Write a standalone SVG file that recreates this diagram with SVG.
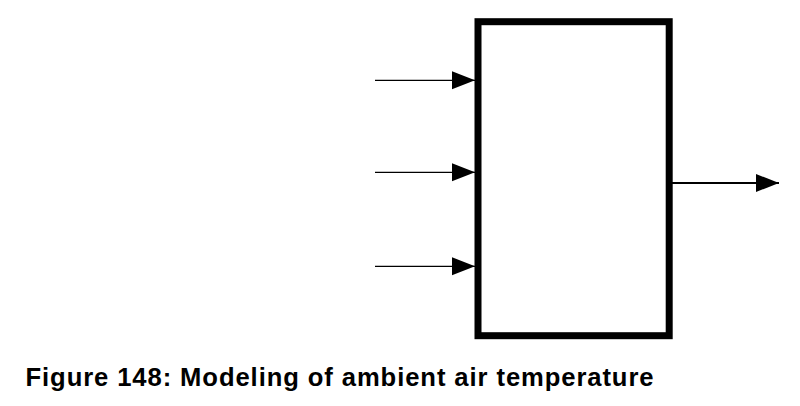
<svg xmlns="http://www.w3.org/2000/svg" width="800" height="406" viewBox="0 0 800 406">
<style>
.in{stroke:#000;stroke-width:1.2;fill:none}
.out{stroke:#000;stroke-width:2;fill:none}
.cap{font-family:"Liberation Sans",Arial,sans-serif;font-weight:bold;font-size:25.6px;fill:#000}
</style>
<defs>
<marker id="ah" markerUnits="userSpaceOnUse" markerWidth="24" markerHeight="20" refX="23" refY="9" orient="auto" viewBox="0 0 24 18">
<path d="M0,0 L23,9 L0,18 Z" fill="#000"/>
</marker>
</defs>
<rect width="800" height="406" fill="#fff"/>
<g id="block">
<rect x="478" y="21.7" width="191.2" height="314" fill="#fff" stroke="#000" stroke-width="7"/>
</g>
<g id="connectors">
<line class="in" x1="375" y1="80.3" x2="475" y2="80.3" marker-end="url(#ah)"/>
<line class="in" x1="375" y1="172.3" x2="475" y2="172.3" marker-end="url(#ah)"/>
<line class="in" x1="375" y1="266.3" x2="475" y2="266.3" marker-end="url(#ah)"/>
<line class="out" x1="672" y1="183" x2="779" y2="183" marker-end="url(#ah)"/>
</g>
<g id="caption">
<text class="cap" x="25.5" y="386" textLength="628" lengthAdjust="spacing">Figure 148: Modeling of ambient air temperature</text>
</g>
</svg>
